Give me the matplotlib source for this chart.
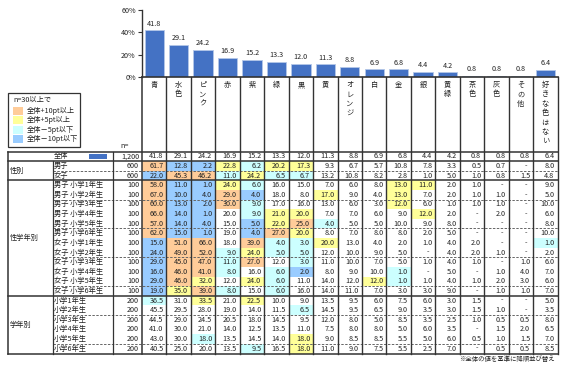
import matplotlib.pyplot as plt
from matplotlib.patches import Rectangle

plt.rcParams['font.family'] = ['Noto Sans CJK JP', 'DejaVu Sans']

# chart data
color_names = ['青', '水色', 'ピンク', '赤', '紫', '緑', '黒', '黄', 'オレンジ', '白',
               '金', '銀', '黄緑', '茶色', '灰色', 'その他', '好きな色はない']
total_n = 1200
total_values = [41.8, 29.1, 24.2, 16.9, 15.2, 13.3, 12.0, 11.3, 8.8, 6.9,
                6.8, 4.4, 4.2, 0.8, 0.8, 0.8, 6.4]

sex_labels = ['男子', '女子']
sex_n = [600, 600]
sex_values = [
    [61.7, 12.8, 2.2, 22.8, 6.2, 20.2, 17.3, 9.3, 6.7, 5.7, 10.8, 7.8, 3.3, 0.5, 0.7, None, 8.0],
    [22.0, 45.3, 46.2, 11.0, 24.2, 6.5, 6.7, 13.2, 10.8, 8.2, 2.8, 1.0, 5.0, 1.0, 0.8, 1.5, 4.8],
]

sexgrade_labels = ['男子 小学1年生', '男子 小学2年生', '男子 小学3年生', '男子 小学4年生',
                   '男子 小学5年生', '男子 小学6年生', '女子 小学1年生', '女子 小学2年生',
                   '女子 小学3年生', '女子 小学4年生', '女子 小学5年生', '女子 小学6年生']
sexgrade_n = [100] * 12
sexgrade_values = [
    [58.0, 11.0, 1.0, 24.0, 6.0, 16.0, 15.0, 7.0, 6.0, 8.0, 13.0, 11.0, 2.0, 1.0, None, None, 9.0],
    [67.0, 10.0, 4.0, 29.0, 4.0, 18.0, 8.0, 17.0, 9.0, 4.0, 13.0, 7.0, 2.0, 1.0, 1.0, None, 5.0],
    [60.0, 13.0, 2.0, 30.0, 9.0, 17.0, 16.0, 13.0, 6.0, 3.0, 12.0, 6.0, 1.0, 1.0, 1.0, None, 10.0],
    [66.0, 14.0, 1.0, 20.0, 9.0, 21.0, 20.0, 7.0, 7.0, 6.0, 9.0, 12.0, 2.0, None, 2.0, None, 6.0],
    [57.0, 14.0, 4.0, 15.0, 5.0, 22.0, 25.0, 4.0, 5.0, 5.0, 10.0, 9.0, 8.0, None, None, None, 8.0],
    [62.0, 15.0, 1.0, 19.0, 4.0, 27.0, 20.0, 8.0, 7.0, 8.0, 8.0, 2.0, 5.0, None, None, None, 10.0],
    [15.0, 51.0, 66.0, 18.0, 39.0, 4.0, 3.0, 20.0, 13.0, 4.0, 2.0, 1.0, 4.0, 2.0, None, None, 1.0],
    [24.0, 49.0, 52.0, 9.0, 24.0, 5.0, 5.0, 12.0, 10.0, 9.0, 5.0, None, 4.0, 2.0, 1.0, None, 2.0],
    [29.0, 45.0, 47.0, 11.0, 27.0, 12.0, 3.0, 11.0, 10.0, 7.0, 5.0, 1.0, 4.0, 1.0, None, 1.0, 6.0],
    [16.0, 46.0, 41.0, 8.0, 16.0, 6.0, 2.0, 8.0, 9.0, 10.0, 1.0, None, 5.0, None, 1.0, 4.0, 7.0],
    [29.0, 46.0, 32.0, 12.0, 24.0, 6.0, 11.0, 14.0, 12.0, 12.0, 1.0, 1.0, 4.0, 1.0, 2.0, 3.0, 6.0],
    [19.0, 35.0, 39.0, 8.0, 15.0, 6.0, 16.0, 14.0, 11.0, 7.0, 3.0, 3.0, 9.0, None, 1.0, 1.0, 7.0],
]

grade_labels = ['小学1年生', '小学2年生', '小学3年生', '小学4年生', '小学5年生', '小学6年生']
grade_n = [200] * 6
grade_values = [
    [36.5, 31.0, 33.5, 21.0, 22.5, 10.0, 9.0, 13.5, 9.5, 6.0, 7.5, 6.0, 3.0, 1.5, None, None, 5.0],
    [45.5, 29.5, 28.0, 19.0, 14.0, 11.5, 6.5, 14.5, 9.5, 6.5, 9.0, 3.5, 3.0, 1.5, 1.0, None, 3.5],
    [44.5, 29.0, 24.5, 20.5, 18.0, 14.5, 9.5, 12.0, 8.0, 5.0, 8.5, 3.5, 2.5, 1.0, 0.5, 0.5, 8.0],
    [41.0, 30.0, 21.0, 14.0, 12.5, 13.5, 11.0, 7.5, 8.0, 8.0, 5.0, 6.0, 3.5, None, 1.5, 2.0, 6.5],
    [43.0, 30.0, 18.0, 13.5, 14.5, 14.0, 18.0, 9.0, 8.5, 8.5, 5.5, 5.0, 6.0, 0.5, 1.0, 1.5, 7.0],
    [40.5, 25.0, 20.0, 13.5, 9.5, 16.5, 18.0, 11.0, 9.0, 7.5, 5.5, 2.5, 7.0, None, 0.5, 0.5, 8.5],
]

groups = [('性別', sex_labels, sex_n, sex_values),
          ('性学年別', sexgrade_labels, sexgrade_n, sexgrade_values),
          ('学年別', grade_labels, grade_n, grade_values)]

legend_labels = ['全体+10pt以上', '全体+5pt以上', '全体－5pt以下', '全体－10pt以下']
hl_colors = ['#FFCC99', '#FFFF99', '#CCFFFF', '#99CCFF']
bar_color = '#4472C4'
txt = '#222222'
line = '#333333'
fs = 5.2

W, H = 567, 365
fig = plt.figure(figsize=(W / 100, H / 100), dpi=100)
ax = fig.add_axes([0, 0, 1, 1])
ax.set_xlim(0, W)
ax.set_ylim(H, 0)
ax.axis('off')

# layout in pixels
xA, xB, xN, x0 = 8, 52.5, 113, 142
ncol = len(color_names)
x1 = 557.5
cw = (x1 - x0) / ncol
y_base = 77
y_top = 10
t_top = 151.5
rh = 9.62


def highlight(v, ref, n):
    # colour rule: n>=30, compared with the overall value
    if v is None or n < 30:
        return None
    d = round(v - ref, 1)
    if d >= 10:
        return hl_colors[0]
    if d >= 5:
        return hl_colors[1]
    if d <= -10:
        return hl_colors[3]
    if d <= -5:
        return hl_colors[2]
    return None


# bar chart
bax = fig.add_axes([x0 / W, 1 - y_base / H, (x1 - x0) / W, (y_base - y_top) / H])
bars = bax.bar(range(ncol), total_values, width=0.79, color=bar_color,
               edgecolor='#b4c7e7', linewidth=0.6)
bax.set_xlim(-0.5, ncol - 0.5)
bax.set_ylim(0, 60)
bax.set_yticks([0, 20, 40, 60])
bax.set_yticklabels(['0%', '20%', '40%', '60%'], fontsize=fs, color=txt)
bax.set_xticks([])
bax.tick_params(axis='y', length=3, width=0.8, color=line, pad=1.5)
for s in ['top', 'right']:
    bax.spines[s].set_visible(False)
bax.spines['left'].set_color(line)
bax.spines['bottom'].set_color(line)
bax.spines['left'].set_linewidth(1)
bax.spines['bottom'].set_linewidth(1.2)
bax.patch.set_alpha(0)
bax.bar_label(bars, labels=[f'{v:.1f}' for v in total_values], padding=2,
              fontsize=fs, color=txt)

# header column names (vertical text)
for j, name in enumerate(color_names):
    cx = x0 + cw * (j + 0.5)
    for k, ch in enumerate(name):
        ax.text(cx, 85 + k * 9.4, ch, fontsize=fs, color=txt, ha='center', va='center')

# rows
rows = [('全体', total_n, total_values, None)]
for gname, labels, ns, vals in groups:
    for lab, n, v in zip(labels, ns, vals):
        rows.append((lab, n, v, gname))
nrows = len(rows)
t_bot = t_top + nrows * rh

for i, (lab, n, vals, gname) in enumerate(rows):
    yt = t_top + i * rh
    yc = yt + rh / 2
    for j, v in enumerate(vals):
        xl = x0 + j * cw
        if gname is not None:
            c = highlight(v, total_values[j], n)
            if c:
                ax.add_patch(Rectangle((xl, yt), cw, rh, facecolor=c, edgecolor='none', zorder=1))
        if v is None:
            ax.text(xl + cw - 7, yc, '-', fontsize=fs, color=txt, ha='center', va='center', zorder=3)
        else:
            ax.text(xl + cw - 3, yc, f'{v:.1f}', fontsize=fs, color=txt, ha='right', va='center', zorder=3)
    ax.text(x0 - 3, yc, f'{n:,}', fontsize=fs, color=txt, ha='right', va='center')
    if gname is None:
        ax.text(54, yc, lab, fontsize=fs, color=txt, ha='left', va='center')
        ax.add_patch(Rectangle((89, yc - 2.6), 17.5, 5.2, facecolor=bar_color, edgecolor='none'))
    else:
        ax.text(xB + 1.5, yc, lab, fontsize=fs, color=txt, ha='left', va='center')

# group labels and horizontal lines
start = 1
ax.plot([xA, x1], [t_top + rh, t_top + rh], color=line, lw=1.1, zorder=4)
for gname, labels, ns, vals in groups:
    end = start + len(labels)
    ymid = t_top + (start + end) / 2 * rh
    ax.text(xA + 2, ymid, gname, fontsize=fs, color=txt, ha='left', va='center')
    for r in range(start + 1, end):
        if r % 3 == 2:
            yy = t_top + r * rh
            ax.plot([xB, x1], [yy, yy], color='#666666', lw=0.7, ls=(0, (2.5, 1.5)), zorder=4)
    ye = t_top + end * rh
    ax.plot([xA, x1], [ye, ye], color=line, lw=1.1, zorder=4)
    start = end

# table borders and vertical lines
ax.plot([xA, x1], [t_top, t_top], color=line, lw=1.1, zorder=4)
ax.plot([xA, xA], [t_top, t_bot], color=line, lw=1.1, zorder=4)
ax.plot([xB, xB], [t_top + rh, t_bot], color=line, lw=0.9, zorder=4)
ax.plot([xN, xN], [t_top, t_bot], color=line, lw=0.9, zorder=4)
for j in range(1, ncol + 1):
    xx = x0 + j * cw
    ax.plot([xx, xx], [y_base, t_bot], color=line, lw=1.0, zorder=4)
ax.plot([x0, x0], [y_base, t_bot], color=line, lw=1.1, zorder=4)

ax.text(120, 146.5, 'n=', fontsize=fs, color=txt, ha='left', va='center')

# legend box
ax.add_patch(Rectangle((8.3, 93.3), 71.7, 53.4, facecolor='white', edgecolor=line, lw=0.9))
ax.text(13, 99.5, 'n=30以上で', fontsize=fs, color=txt, ha='left', va='center')
for k, (c, lab) in enumerate(zip(hl_colors, legend_labels)):
    yy = 107 + k * 9.3
    ax.add_patch(Rectangle((13.3, yy), 9.4, 8, facecolor=c, edgecolor='none'))
    ax.text(26.5, yy + 4, lab, fontsize=fs, color=txt, ha='left', va='center')

ax.text(555, 358.5, '※全体の値を基準に降順並び替え', fontsize=4.6, color=txt, ha='right', va='center')

fig.savefig('out.png', dpi=100)
